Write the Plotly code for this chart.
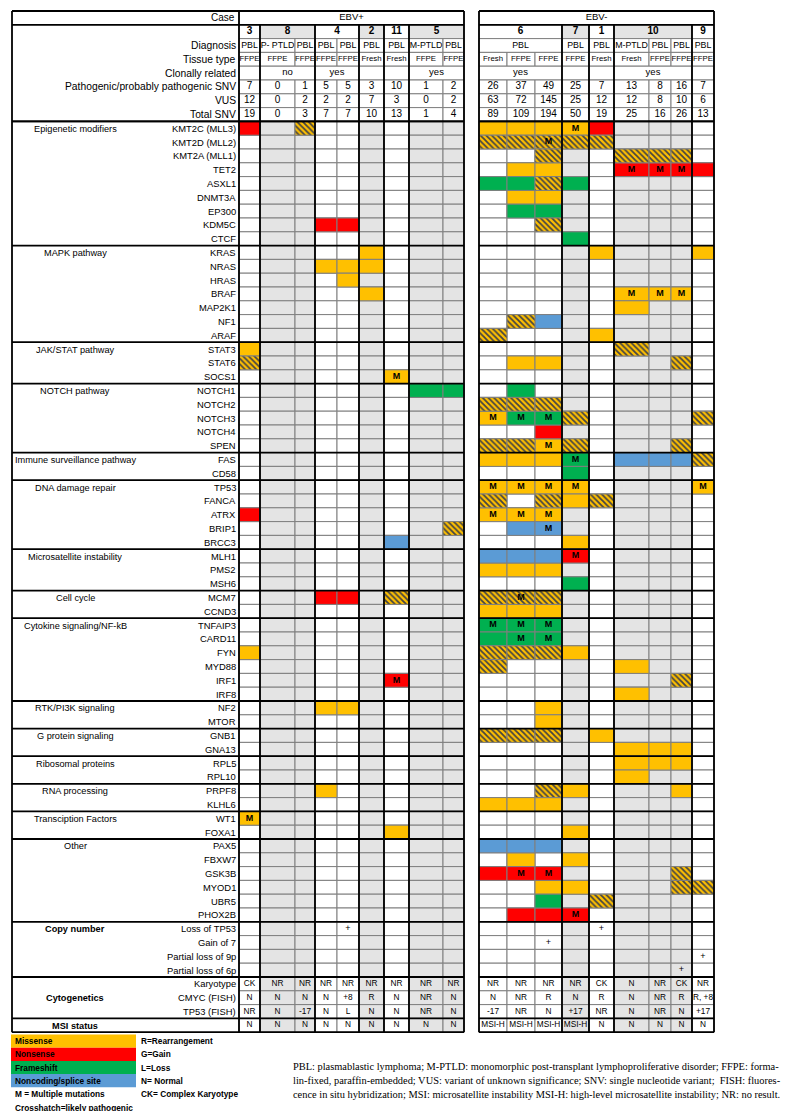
import plotly.graph_objects as go

# ---------------- data ----------------
ebv_labels = ["EBV+", "EBV-"]
case_ids = ["3", "8", "4", "2", "11", "5", "6", "7", "1", "10", "9"]
case_spans = [1, 2, 2, 1, 1, 2, 3, 1, 1, 3, 1]
case_shaded = [0, 1, 0, 1, 0, 1, 0, 1, 0, 1, 0]
diagnosis = [("PBL", 1), ("P- PTLD", 1), ("PBL", 1), ("PBL", 1), ("PBL", 1), ("PBL", 1),
             ("PBL", 1), ("M-PTLD", 1), ("PBL", 1), ("PBL", 3), ("PBL", 1), ("PBL", 1),
             ("M-PTLD", 1), ("PBL", 1), ("PBL", 1), ("PBL", 1)]
tissue_type = ["FFPE", "FFPE", "FFPE", "FFPE", "FFPE", "Fresh", "Fresh", "FFPE", "FFPE",
               "Fresh", "FFPE", "FFPE", "FFPE", "Fresh", "Fresh", "FFPE", "FFPE", "FFPE"]
clonally_related = [("", 1), ("no", 2), ("yes", 2), ("", 1), ("", 1), ("yes", 2),
                    ("yes", 3), ("", 1), ("", 1), ("yes", 3), ("", 1)]
pathogenic_snv = [7, 0, 1, 5, 5, 3, 10, 1, 2, 26, 37, 49, 25, 7, 13, 8, 16, 7]
vus = [12, 0, 2, 2, 2, 7, 3, 0, 2, 63, 72, 145, 25, 12, 12, 8, 10, 6]
total_snv = [19, 0, 3, 7, 7, 10, 13, 1, 4, 89, 109, 194, 50, 19, 25, 16, 26, 13]

# codes: mi=missense ns=nonsense fs=frameshift sp=noncoding/splice lp=likely pathogenic (crosshatch)
# suffix M = multiple mutations; "." = none; "|" separates EBV+ | EBV-
epigenetic = {
    "KMT2C (MLL3)": "ns . lp . . . . . . | mi mi mi miM ns . . . .",
    "KMT2D (MLL2)": ". . . . . . . . . | lp lp lpM lp lp . . . .",
    "KMT2A (MLL1)": ". . . . . . . . . | . . lp . . lp lp lp .",
    "TET2": ". . . . . . . . . | . mi mi . . nsM nsM nsM ns",
    "ASXL1": ". . . . . . . . . | fs fs lp fs . . . . .",
    "DNMT3A": ". . . . . . . . . | . mi mi . . . . . .",
    "EP300": ". . . . . . . . . | . fs fs . . . . . .",
    "KDM5C": ". . . ns ns . . . . | . . lp . . . . . .",
    "CTCF": ". . . . . . . . . | . . . fs . . . . .",
}
mapk = {
    "KRAS": ". . . . . mi . . . | . . . . mi . . . mi",
    "NRAS": ". . . mi mi mi . . . | . . . . . . . . .",
    "HRAS": ". . . . mi . . . . | . . . . . . . . .",
    "BRAF": ". . . . . mi . . . | . . . . . miM miM miM .",
    "MAP2K1": ". . . . . . . . . | . . . . . mi . . .",
    "NF1": ". . . . . . . . . | . lp sp . . . . . .",
    "ARAF": ". . . . . . . . . | lp . . . mi . . . .",
}
jak_stat = {
    "STAT3": "mi . . . . . . . . | . . . . . lp . . .",
    "STAT6": "lp . . . . . . . . | . mi mi . . . . lp .",
    "SOCS1": ". . . . . . miM . . | . . . . . . . . .",
}
notch = {
    "NOTCH1": ". . . . . . . fs fs | . fs . . . . . . .",
    "NOTCH2": ". . . . . . . . . | lp lp lp . . . . . .",
    "NOTCH3": ". . . . . . . . . | miM fsM fsM lp . . . . lp",
    "NOTCH4": ". . . . . . . . . | . . ns . . . . . .",
    "SPEN": ". . . . . . . . . | lp lp miM lp . . . lp .",
}
immune = {
    "FAS": ". . . . . . . . . | mi mi mi fsM . sp sp sp lp",
    "CD58": ". . . . . . . . . | . . . fs . . . . .",
}
dna_repair = {
    "TP53": ". . . . . . . . . | miM miM miM miM . . . . miM",
    "FANCA": ". . . . . . . . . | lp . lp mi lp . . . .",
    "ATRX": "ns . . . . . . . . | miM miM miM . . . . . .",
    "BRIP1": ". . . . . . . . lp | . sp spM . . . . . .",
    "BRCC3": ". . . . . . sp . . | . . . mi . . . . .",
}
msi_genes = {
    "MLH1": ". . . . . . . . . | sp sp sp nsM . . . . .",
    "PMS2": ". . . . . . . . . | mi mi mi . . . . . .",
    "MSH6": ". . . . . . . . . | . . . fs . . . . .",
}
cell_cycle = {
    "MCM7": ". . . ns ns . lp . . | lp lpM lp . . . . . .",
    "CCND3": ". . . . . . . . . | mi mi mi . . . . . .",
}
cytokine = {
    "TNFAIP3": ". . . . . . . . . | fsM fsM fsM . . . . . .",
    "CARD11": ". . . . . . . . . | fs fsM fsM . . . . . .",
    "FYN": "mi . . . . . . . . | lp lp lp mi . . . . .",
    "MYD88": ". . . . . . . . . | lp . . . . mi . . .",
    "IRF1": ". . . . . . nsM . . | . . . . . . . lp .",
    "IRF8": ". . . . . . . . . | . . . . . mi . . .",
}
rtk_pi3k = {
    "NF2": ". . . mi mi . . . . | . . mi . . . . . .",
    "MTOR": ". . . . . . . . . | . . mi . . . . . .",
}
g_protein = {
    "GNB1": ". . . . . . . . . | lp lp lp . mi . . . .",
    "GNA13": ". . . . . . . . . | . . . . . mi mi mi .",
}
ribosomal = {
    "RPL5": ". . . . . . . . . | . . . . . mi mi mi .",
    "RPL10": ". . . . . . . . . | . . . . . mi . . .",
}
rna_processing = {
    "PRPF8": ". . . mi . . . . . | . . lp mi . . . mi .",
    "KLHL6": ". . . . . . . . . | mi mi mi . . . . . .",
}
transcription = {
    "WT1": "miM . . . . . . . . | . . . . . . . . .",
    "FOXA1": ". . . . . . mi . . | . . . mi . . . . .",
}
other = {
    "PAX5": ". . . . . . . . . | sp sp sp . . . . . .",
    "FBXW7": ". . . . . . . . . | . mi . mi . . . . .",
    "GSK3B": ". . . . . . . . . | ns nsM nsM . . . . lp .",
    "MYOD1": ". . . . . . . . . | . . mi mi . . . lp lp",
    "UBR5": ". . . . . . . . . | . . fs . lp . . . .",
    "PHOX2B": ". . . . . . . . . | . ns ns nsM . . . . .",
}
sections = [
    ("Epigenetic modifiers", epigenetic), ("MAPK pathway", mapk),
    ("JAK/STAT pathway", jak_stat), ("NOTCH pathway", notch),
    ("Immune surveillance pathway", immune), ("DNA damage repair", dna_repair),
    ("Microsatellite instability", msi_genes), ("Cell cycle", cell_cycle),
    ("Cytokine signaling/NF-kB", cytokine), ("RTK/PI3K signaling", rtk_pi3k),
    ("G protein signaling", g_protein), ("Ribosomal proteins", ribosomal),
    ("RNA processing", rna_processing), ("Transciption Factors", transcription),
    ("Other", other),
]
copy_number = {
    "Loss of TP53": ". . . . + . . . . | . . . . + . . . .",
    "Gain of 7": ". . . . . . . . . | . . + . . . . . .",
    "Partial loss of 9p": ". . . . . . . . . | . . . . . . . . +",
    "Partial loss of 6p": ". . . . . . . . . | . . . . . . . + .",
}
karyotype = ["CK", "NR", "NR", "NR", "NR", "NR", "NR", "NR", "NR",
             "NR", "NR", "NR", "NR", "CK", "N", "NR", "CK", "NR"]
cmyc_fish = ["N", "N", "N", "N", "+8", "R", "N", "NR", "N",
             "N", "NR", "R", "N", "R", "N", "NR", "R", "R, +8"]
tp53_fish = ["NR", "N", "-17", "N", "L", "N", "N", "NR", "N",
             "-17", "NR", "N", "+17", "NR", "N", "NR", "N", "+17"]
msi_status = ["N", "N", "N", "N", "N", "N", "N", "N", "N",
              "MSI-H", "MSI-H", "MSI-H", "MSI-H", "N", "N", "N", "N", "N"]
legend_types = [("Missense", "mi"), ("Nonsense", "ns"), ("Frameshift", "fs"),
                ("Noncoding/splice site", "sp")]
legend_notes = ["R=Rearrangement", "G=Gain", "L=Loss", "N= Normal", "CK= Complex Karyotype"]
legend_extra = ["M = Multiple mutations", "Crosshatch=likely pathogenic"]
footnote_lines = [
    "PBL: plasmablastic lymphoma; M-PTLD: monomorphic post-transplant lymphoproliferative disorder; FFPE: forma-",
    "lin-fixed, paraffin-embedded; VUS: variant of unknown significance; SNV: single nucleotide variant;  FISH: fluores-",
    "cence in situ hybridization; MSI: microsatellite instability MSI-H: high-level microsatellite instability; NR: no result.",
]

# ---------------- styles / layout ----------------
FONT = "Liberation Sans, Arial, sans-serif"
SERIF = "Liberation Serif, Times New Roman, serif"
FILL = {"mi": "#FFC000", "ns": "#FF0000", "fs": "#00B050", "sp": "#5B9BD5", "lp": "#FFC000"}
SHADE = "#E4E4E4"
GRID = "#7F7F7F"
THICK = 1.8

left_edges = [231, 252, 287, 307, 329, 351, 376, 401, 435, 456]
right_edges = [471, 499, 527, 554, 581, 606, 641, 663, 684, 706]
cols = [(left_edges[i], left_edges[i + 1]) for i in range(9)] + \
       [(right_edges[i], right_edges[i + 1]) for i in range(9)]
X_LEFT = 4
X_LABEL = 231
TOP = 3.0
RH = 13.8
N_HEADER = 8

col_shaded = []
for s, n in zip(case_shaded, case_spans):
    col_shaded += [s] * n


def ry(i):
    return TOP + i * RH


def span_cells(spec):
    out, k = [], 0
    for t, n in spec:
        out.append((t, cols[k][0], cols[k + n - 1][1], k, n))
        k += n
    return out


# body rows
body = []
for sname, genes in sections:
    for gi, (g, code) in enumerate(genes.items()):
        body.append(dict(label=g, kind="gene", vals=code.replace("|", " ").split(),
                         sec=sname if gi == 0 else None, start=gi == 0))
for gi, (g, code) in enumerate(copy_number.items()):
    body.append(dict(label=g, kind="copy", vals=code.replace("|", " ").split(),
                     sec="<b>Copy number</b>" if gi == 0 else None, start=gi == 0))
for gi, (lab, vals) in enumerate(zip(["Karyotype", "CMYC (FISH)", "TP53 (FISH)"],
                                     [karyotype, cmyc_fish, tp53_fish])):
    body.append(dict(label=lab, kind="cyto", vals=vals,
                     sec="<b>Cytogenetics</b>" if gi == 1 else None, start=gi == 0))
body.append(dict(label="", kind="msi", vals=msi_status, sec="<b>MSI status</b>", start=True))

N_ROWS = N_HEADER + len(body)
Y_BOTTOM = ry(N_ROWS)

# ---------------- accumulate rectangles ----------------
rects = {}


def add_rect(key, x0, x1, y0, y1, color):
    d = rects.setdefault(key, dict(x=[], w=[], base=[], h=[], c=[]))
    d["x"].append((x0 + x1) / 2)
    d["w"].append(x1 - x0)
    d["base"].append(y0)
    d["h"].append(y1 - y0)
    d["c"].append(color)


texts = {}


def add_text(key, x, y, t):
    d = texts.setdefault(key, dict(x=[], y=[], t=[]))
    d["x"].append(x)
    d["y"].append(y)
    d["t"].append(t)


annots = []


def label(x, y, t, size=9, anchor="right", family=FONT, bold=False):
    annots.append(dict(x=x, y=y, text=(f"<b>{t}</b>" if bold else t), showarrow=False,
                       xanchor=anchor, yanchor="middle", xref="x", yref="y",
                       font=dict(size=size, family=family, color="black")))


# header: case row
label(229, ry(0) + RH / 2, "Case", size=10)
for lab, (x0, x1) in zip(ebv_labels, [(left_edges[0], left_edges[-1]), (right_edges[0], right_edges[-1])]):
    add_rect("bg", x0, x1, ry(0), ry(1), "white")
    add_text("hdr9", (x0 + x1) / 2, ry(0) + RH / 2, lab)

# case number row
for t, x0, x1, k, n in span_cells(list(zip(case_ids, case_spans))):
    add_rect("bg", x0, x1, ry(1), ry(2), SHADE if col_shaded[k] else "white")
    add_text("case", (x0 + x1) / 2, ry(1) + RH / 2, f"<b>{t}</b>")

# other header rows
header_rows = [
    ("Diagnosis", diagnosis, "diag"),
    ("Tissue type", [(t, 1) for t in tissue_type], "tissue"),
    ("Clonally related", clonally_related, "hdr9"),
    ("Pathogenic/probably pathogenic SNV", [(str(v), 1) for v in pathogenic_snv], "num"),
    ("VUS", [(str(v), 1) for v in vus], "num"),
    ("Total SNV", [(str(v), 1) for v in total_snv], "num"),
]
for i, (lab, spec, tkey) in enumerate(header_rows):
    r = 2 + i
    label(229.5, ry(r) + RH / 2, lab, size=10.3)
    for t, x0, x1, k, n in span_cells(spec):
        add_rect("bg", x0, x1, ry(r), ry(r + 1), "white")
        if t:
            add_text(tkey, (x0 + x1) / 2, ry(r) + RH / 2, t)

# body rows
section_starts = []
for j, row in enumerate(body):
    r = N_HEADER + j
    y0, y1 = ry(r), ry(r + 1)
    yc = (y0 + y1) / 2
    if row["start"]:
        section_starts.append(y0)
    if row["label"]:
        label(229.5, yc, row["label"], size=9.4)
    if row["sec"]:
        label(67, yc + 0.5, row["sec"], size=9.2, anchor="center")
    for c, v in enumerate(row["vals"]):
        x0, x1 = cols[c]
        add_rect("bg", x0, x1, y0, y1, SHADE if col_shaded[c] else "white")
        if row["kind"] == "gene" and v != ".":
            kind = v[:2]
            add_rect(kind, x0, x1, y0, y1, FILL[kind])
            if v.endswith("M"):
                add_text("mult", (x0 + x1) / 2, yc, "<b>M</b>")
        elif row["kind"] == "copy" and v != ".":
            add_text("plus", (x0 + x1) / 2, yc, v)
        elif row["kind"] in ("cyto", "msi"):
            add_text("cyto", (x0 + x1) / 2, yc, v)

# legend boxes
LEG_TOP = 1026.5
LEG_H = 13.2
LEG_R = 128
for i, (lab, kind) in enumerate(legend_types):
    y0 = LEG_TOP + i * LEG_H
    add_rect("legend", 3, LEG_R, y0, y0 + LEG_H, FILL[kind])
    label(5, y0 + LEG_H / 2, lab, size=8.3, anchor="left", bold=True)
for i, lab in enumerate(legend_notes):
    label(LEG_R + 3, LEG_TOP + i * LEG_H + LEG_H / 2, lab, size=8.3, anchor="left", bold=True)
for i, lab in enumerate(legend_extra):
    label(5, LEG_TOP + (4 + i) * LEG_H + LEG_H / 2 + 0.5, lab, size=8.3, anchor="left", bold=True)
for i, line in enumerate(footnote_lines):
    label(283, 1058 + i * 14.3, line, size=10.4, anchor="left", family=SERIF)

# ---------------- figure ----------------
fig = go.Figure()
order = ["bg", "mi", "ns", "fs", "sp", "lp", "legend"]
for key in order:
    if key not in rects:
        continue
    d = rects[key]
    marker = dict(color=d["c"], line=dict(color=GRID, width=1))
    if key == "lp":
        marker["pattern"] = dict(shape="\\", fgcolor="#1a1200", fgopacity=1,
                                 size=4, solidity=0.45, fillmode="overlay")
    if key == "legend":
        marker["line"] = dict(width=0)
    fig.add_trace(go.Bar(x=d["x"], y=d["h"], base=d["base"], width=d["w"],
                         marker=marker, hoverinfo="skip", showlegend=False))

text_styles = {
    "hdr9": dict(size=9.5, family=FONT),
    "case": dict(size=10, family=FONT),
    "diag": dict(size=8.8, family=FONT),
    "tissue": dict(size=7.8, family=FONT),
    "num": dict(size=10, family=FONT),
    "mult": dict(size=9, family=FONT),
    "plus": dict(size=9, family=FONT),
    "cyto": dict(size=8.3, family=FONT),
}
for key, d in texts.items():
    fig.add_trace(go.Scatter(x=d["x"], y=d["y"], text=d["t"], mode="text",
                             textposition="middle center",
                             textfont=dict(color="black", **text_styles[key]),
                             hoverinfo="skip", showlegend=False))

shapes = []


def hline(y, x0, x1):
    shapes.append(dict(type="line", x0=x0, x1=x1, y0=y, y1=y, xref="x", yref="y",
                       line=dict(color="black", width=THICK), layer="above"))


def vline(x, y0, y1):
    shapes.append(dict(type="line", x0=x, x1=x, y0=y0, y1=y1, xref="x", yref="y",
                       line=dict(color="black", width=THICK), layer="above"))


for y in [ry(0), ry(1), ry(N_HEADER), Y_BOTTOM] + section_starts:
    hline(y, X_LEFT, left_edges[-1])
    hline(y, right_edges[0], right_edges[-1])
for x in [X_LEFT, X_LABEL, left_edges[-1], right_edges[0], right_edges[-1]]:
    vline(x, ry(0), Y_BOTTOM)
k = 0
for n in case_spans:
    if k not in (0, 9):
        vline(cols[k][0], ry(1), Y_BOTTOM)
    k += n

fig.update_layout(
    width=799, height=1111, margin=dict(l=0, r=0, t=0, b=0),
    paper_bgcolor="white", plot_bgcolor="white", barmode="overlay",
    xaxis=dict(range=[0, 799], visible=False, fixedrange=True),
    yaxis=dict(range=[1111, 0], visible=False, fixedrange=True),
    shapes=shapes, annotations=annots, showlegend=False,
)
fig.write_html("out.html")
